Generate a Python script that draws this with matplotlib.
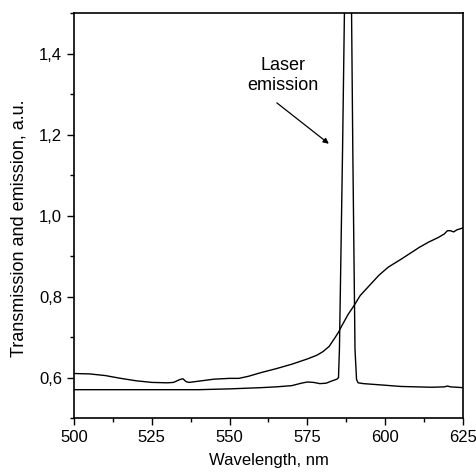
import matplotlib
matplotlib.use('Agg')
import matplotlib.pyplot as plt
from matplotlib.ticker import MultipleLocator, FuncFormatter

plt.rcParams['font.family'] = ['Liberation Sans', 'DejaVu Sans']

# transmission spectrum
trans_wl = [500, 505, 510, 515, 520, 525, 530, 532, 534, 535, 536, 537, 540, 545, 550, 553,
            556, 560, 565, 570, 575, 578, 580, 582, 584, 585, 586, 588, 590, 592, 595, 598,
            601, 605, 608, 611, 614, 617, 619, 620, 621, 622, 623, 625]
trans_val = [0.610, 0.609, 0.605, 0.598, 0.592, 0.588, 0.587, 0.588, 0.595, 0.597, 0.590, 0.588,
             0.591, 0.596, 0.598, 0.598, 0.603, 0.612, 0.622, 0.633, 0.646, 0.655, 0.664, 0.677,
             0.700, 0.712, 0.727, 0.755, 0.778, 0.803, 0.828, 0.853, 0.873, 0.892, 0.907, 0.922,
             0.935, 0.946, 0.955, 0.963, 0.963, 0.960, 0.965, 0.970]

# emission spectrum (laser line clipped at the top)
emis_wl = [500, 520, 540, 550, 560, 565, 570, 573, 575, 577, 579, 581, 583, 584.5, 585.0,
           585.3, 586.3, 586.9, 588.0, 589.2, 589.6, 590.3, 590.8, 591.3, 593, 600, 605, 610,
           615, 619, 620, 621, 625]
emis_val = [0.570, 0.570, 0.570, 0.572, 0.575, 0.577, 0.580, 0.586, 0.589, 0.588, 0.585, 0.586,
            0.592, 0.596, 0.600, 0.670, 1.160, 1.500, 2.200, 1.500, 1.160, 0.670, 0.595, 0.587,
            0.585, 0.581, 0.578, 0.577, 0.576, 0.577, 0.579, 0.577, 0.575]

fig = plt.figure(figsize=(4.77, 4.72), dpi=100)
ax = fig.add_axes([0.1551, 0.1144, 0.8155, 0.857])

ax.plot(trans_wl, trans_val, color='black', lw=1.0)
ax.plot(emis_wl, emis_val, color='black', lw=1.0)

ax.set_xlim(500, 625)
ax.set_ylim(0.5, 1.5)
ax.xaxis.set_major_locator(MultipleLocator(25))
ax.xaxis.set_minor_locator(MultipleLocator(12.5))
ax.yaxis.set_major_locator(MultipleLocator(0.2))
ax.yaxis.set_minor_locator(MultipleLocator(0.1))
ax.yaxis.set_major_formatter(FuncFormatter(lambda v, p: ('%.1f' % v).replace('.', ',')))

ax.tick_params(which='both', direction='out', top=False, right=False, width=1.0, labelsize=12)
ax.tick_params(which='major', length=5)
ax.tick_params(which='minor', length=3)
for s in ax.spines.values():
    s.set_linewidth(1.2)

ax.set_xlabel('Wavelength, nm', fontsize=12, labelpad=6)
ax.set_ylabel('Transmission and emission, a.u.', fontsize=13)
ax.yaxis.set_label_coords(-0.12, 0.47)

ax.text(567.2, 1.347, 'Laser\nemission', fontsize=13, ha='center', va='center',
        multialignment='center')
ax.annotate('', xy=(581.9, 1.178), xytext=(565.2, 1.279),
            arrowprops=dict(arrowstyle='-|>', color='black', lw=0.9,
                            mutation_scale=8, shrinkA=0, shrinkB=0))

fig.savefig('out.png', dpi=100)
